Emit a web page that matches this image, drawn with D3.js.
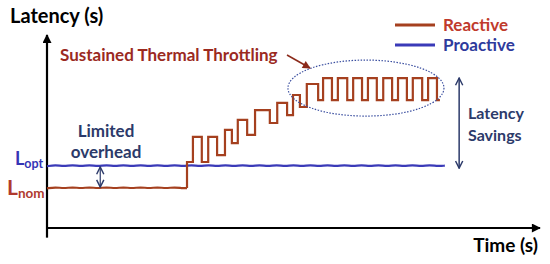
<!DOCTYPE html>
<html>
<head>
<meta charset="utf-8">
<script src="https://cdn.jsdelivr.net/npm/d3@7"></script>
<style>
  body { margin: 0; background: #fff; }
  text { font-family: Lato, "Open Sans", sans-serif; font-weight: bold; }
</style>
</head>
<body>
<div id="chart"></div>
<script>
// latency vs time, reactive vs proactive throttling (units: % of axis)
var blueTime = [0, 1.7, 3.4, 5.2, 6.9, 8.6, 10.3, 12.1, 13.8, 15.5, 17.2, 19.0, 20.7, 22.4, 24.1, 25.9,
  27.6, 29.3, 31.0, 32.8, 34.5, 36.2, 37.9, 39.7, 41.4, 43.1, 44.8, 46.6, 48.3, 50.0, 51.7, 53.4,
  55.2, 56.9, 58.6, 60.3, 62.1, 63.8, 65.5, 67.2, 69.0, 70.7, 72.4, 74.1, 75.9, 77.6, 79.3, 80.7];
var blueLatency = [32.0, 32.7, 32.0, 32.7, 32.0, 32.7, 32.0, 32.7, 32.0, 32.7, 32.0, 32.7, 32.0, 32.7, 32.0, 32.7,
  32.0, 32.7, 32.0, 32.7, 32.0, 32.7, 32.0, 32.7, 32.0, 32.7, 32.0, 32.7, 32.0, 32.7, 32.0, 32.7,
  32.0, 32.7, 32.0, 32.7, 32.0, 32.7, 32.0, 32.7, 32.0, 32.7, 32.0, 32.7, 32.0, 32.7, 32.0, 32.3];

var redNomTime = [0, 1.7, 3.4, 5.2, 6.9, 8.6, 10.3, 12.1, 13.8, 15.5, 17.2, 19.0, 20.7, 22.4, 24.1, 25.9, 27.6, 28.4];
var redNomLatency = [20.5, 21.2, 20.5, 21.2, 20.5, 21.2, 20.5, 21.2, 20.5, 21.2, 20.5, 21.2, 20.5, 21.2, 20.5, 21.2, 20.5, 20.7];

// throttling staircase (step-after)
var redTime = [28.4, 29.6, 31.4, 32.7, 34.5, 36.1, 37.5, 38.7, 40.6, 42.2, 45.2, 46.7, 48.7, 49.9, 51.3, 52.7,
  55.0, 56.0, 57.8, 59.0, 60.9, 62.1, 63.9, 65.1, 66.9, 68.2, 70.0, 71.2, 73.0, 74.2, 76.1, 77.3, 79.1, 79.7];
var redLatency = [34.2, 47.2, 34.2, 47.2, 37.8, 50.8, 44.0, 56.0, 48.2, 61.1, 54.4, 64.8, 58.5, 68.9, 62.7, 74.6,
  66.3, 77.7, 66.3, 77.7, 66.3, 77.7, 66.3, 77.7, 66.3, 77.7, 66.3, 77.7, 66.3, 77.7, 66.3, 77.7, 66.3, 66.3];

var legendLabels = ["Reactive", "Proactive"];

var width = 550, height = 264;
var redLine = "#a5401f", blueLine = "#3a3ab8", navy = "#2c3a6a";

var svg = d3.select("#chart").append("svg")
  .attr("width", width)
  .attr("height", height);

var x = d3.scaleLinear().domain([0, 100]).range([47, 540]);
var y = d3.scaleLinear().domain([0, 100]).range([228, 35]);

var defs = svg.append("defs");
function marker(id, color, w, h) {
  defs.append("marker")
    .attr("id", id)
    .attr("viewBox", "0 0 10 10")
    .attr("refX", 9).attr("refY", 5)
    .attr("markerWidth", w).attr("markerHeight", h)
    .attr("markerUnits", "userSpaceOnUse")
    .attr("orient", "auto-start-reverse")
    .append("path")
    .attr("d", "M0,0 L10,5 L0,10 z")
    .attr("fill", color);
}
marker("axisArrow", "#000", 10, 9);
function openMarker(id, color) {
  defs.append("marker")
    .attr("id", id)
    .attr("viewBox", "0 0 10 10")
    .attr("refX", 9).attr("refY", 5)
    .attr("markerWidth", 9).attr("markerHeight", 9)
    .attr("markerUnits", "userSpaceOnUse")
    .attr("orient", "auto-start-reverse")
    .append("path")
    .attr("d", "M1,1 L9,5 L1,9")
    .attr("fill", "none")
    .attr("stroke", color)
    .attr("stroke-width", 1.6);
}
openMarker("navyArrow", navy);
marker("redArrow", "#8b2a1a", 9, 8);

// axes
svg.append("line")
  .attr("x1", x(0)).attr("y1", y(-5))
  .attr("x2", x(0)).attr("y2", y(100))
  .attr("stroke", "#000").attr("stroke-width", 2.2)
  .attr("marker-end", "url(#axisArrow)");
svg.append("line")
  .attr("x1", x(0) - 1).attr("y1", y(0))
  .attr("x2", x(100)).attr("y2", y(0))
  .attr("stroke", "#000").attr("stroke-width", 2.2)
  .attr("marker-end", "url(#axisArrow)");

svg.append("text").attr("x", 10).attr("y", 23)
  .attr("font-size", 20).attr("fill", "#000").text("Latency (s)");
svg.append("text").attr("x", 538).attr("y", 252).attr("text-anchor", "end")
  .attr("font-size", 19).attr("fill", "#000").text("Time (s)");

// series
var smooth = d3.line()
  .x(function(d) { return x(d[0]); })
  .y(function(d) { return y(d[1]); })
  .curve(d3.curveBasis);
var step = d3.line()
  .x(function(d) { return x(d[0]); })
  .y(function(d) { return y(d[1]); })
  .curve(d3.curveStepAfter);

svg.append("path")
  .datum(blueTime.map(function(t, i) { return [t, blueLatency[i]]; }))
  .attr("d", smooth)
  .attr("fill", "none").attr("stroke", blueLine).attr("stroke-width", 2.2);

svg.append("path")
  .datum(redNomTime.map(function(t, i) { return [t, redNomLatency[i]]; }))
  .attr("d", smooth)
  .attr("fill", "none").attr("stroke", redLine).attr("stroke-width", 2.2);

var redPts = [[redNomTime[redNomTime.length - 1], redNomLatency[redNomLatency.length - 1]]]
  .concat(redTime.map(function(t, i) { return [t, redLatency[i]]; }));
svg.append("path")
  .datum(redPts)
  .attr("d", step)
  .attr("fill", "none").attr("stroke", redLine).attr("stroke-width", 2.2);

// legend
var legend = svg.append("g");
legendLabels.forEach(function(lab, i) {
  var ly = 25 + i * 20;
  legend.append("line")
    .attr("x1", 395).attr("x2", 435).attr("y1", ly).attr("y2", ly)
    .attr("stroke", i === 0 ? redLine : blueLine).attr("stroke-width", 2.8);
  legend.append("text")
    .attr("x", 443).attr("y", ly + 6)
    .attr("font-size", 17)
    .attr("fill", i === 0 ? "#c03a2c" : "#2e3a9c")
    .text(lab);
});

// sustained throttling annotation
svg.append("ellipse")
  .attr("cx", x(64.7)).attr("cy", y(72.5))
  .attr("rx", 78).attr("ry", 28)
  .attr("fill", "none").attr("stroke", "#3b4fa0")
  .attr("stroke-width", 1.2).attr("stroke-dasharray", "1.5,1.5");
svg.append("text").attr("x", 60).attr("y", 61)
  .attr("font-size", 17).attr("fill", "#9b2a1f")
  .text("Sustained Thermal Throttling");
svg.append("line")
  .attr("x1", 287).attr("y1", 55).attr("x2", 310).attr("y2", 68)
  .attr("stroke", "#8b2a1a").attr("stroke-width", 1.5)
  .attr("marker-end", "url(#redArrow)");

// latency savings
svg.append("line")
  .attr("x1", x(83.6)).attr("x2", x(83.6))
  .attr("y1", y(77.7)).attr("y2", y(31.0))
  .attr("stroke", navy).attr("stroke-width", 1.5)
  .attr("marker-start", "url(#navyArrow)")
  .attr("marker-end", "url(#navyArrow)");
svg.append("text").attr("x", 468).attr("y", 119)
  .attr("font-size", 16).attr("fill", navy).text("Latency");
svg.append("text").attr("x", 468).attr("y", 141)
  .attr("font-size", 16).attr("fill", navy).text("Savings");

// limited overhead
svg.append("line")
  .attr("x1", x(10.8)).attr("x2", x(10.8))
  .attr("y1", y(31.6)).attr("y2", y(21.2))
  .attr("stroke", navy).attr("stroke-width", 1.2)
  .attr("marker-start", "url(#navyArrow)")
  .attr("marker-end", "url(#navyArrow)");
svg.append("text").attr("x", 106).attr("y", 137).attr("text-anchor", "middle")
  .attr("font-size", 17).attr("fill", navy).text("Limited");
svg.append("text").attr("x", 106).attr("y", 158).attr("text-anchor", "middle")
  .attr("font-size", 17).attr("fill", navy).text("overhead");

// L_opt / L_nom
var lopt = svg.append("text").attr("x", 15).attr("y", 165).attr("fill", "#3535b5");
lopt.append("tspan").attr("font-size", 18).text("L");
lopt.append("tspan").attr("font-size", 12.5).attr("dy", 3).text("opt");
var lnom = svg.append("text").attr("x", 7).attr("y", 195).attr("fill", "#b03a2e");
lnom.append("tspan").attr("font-size", 21).text("L");
lnom.append("tspan").attr("font-size", 13.5).attr("dy", 3).text("nom");
</script>
</body>
</html>
